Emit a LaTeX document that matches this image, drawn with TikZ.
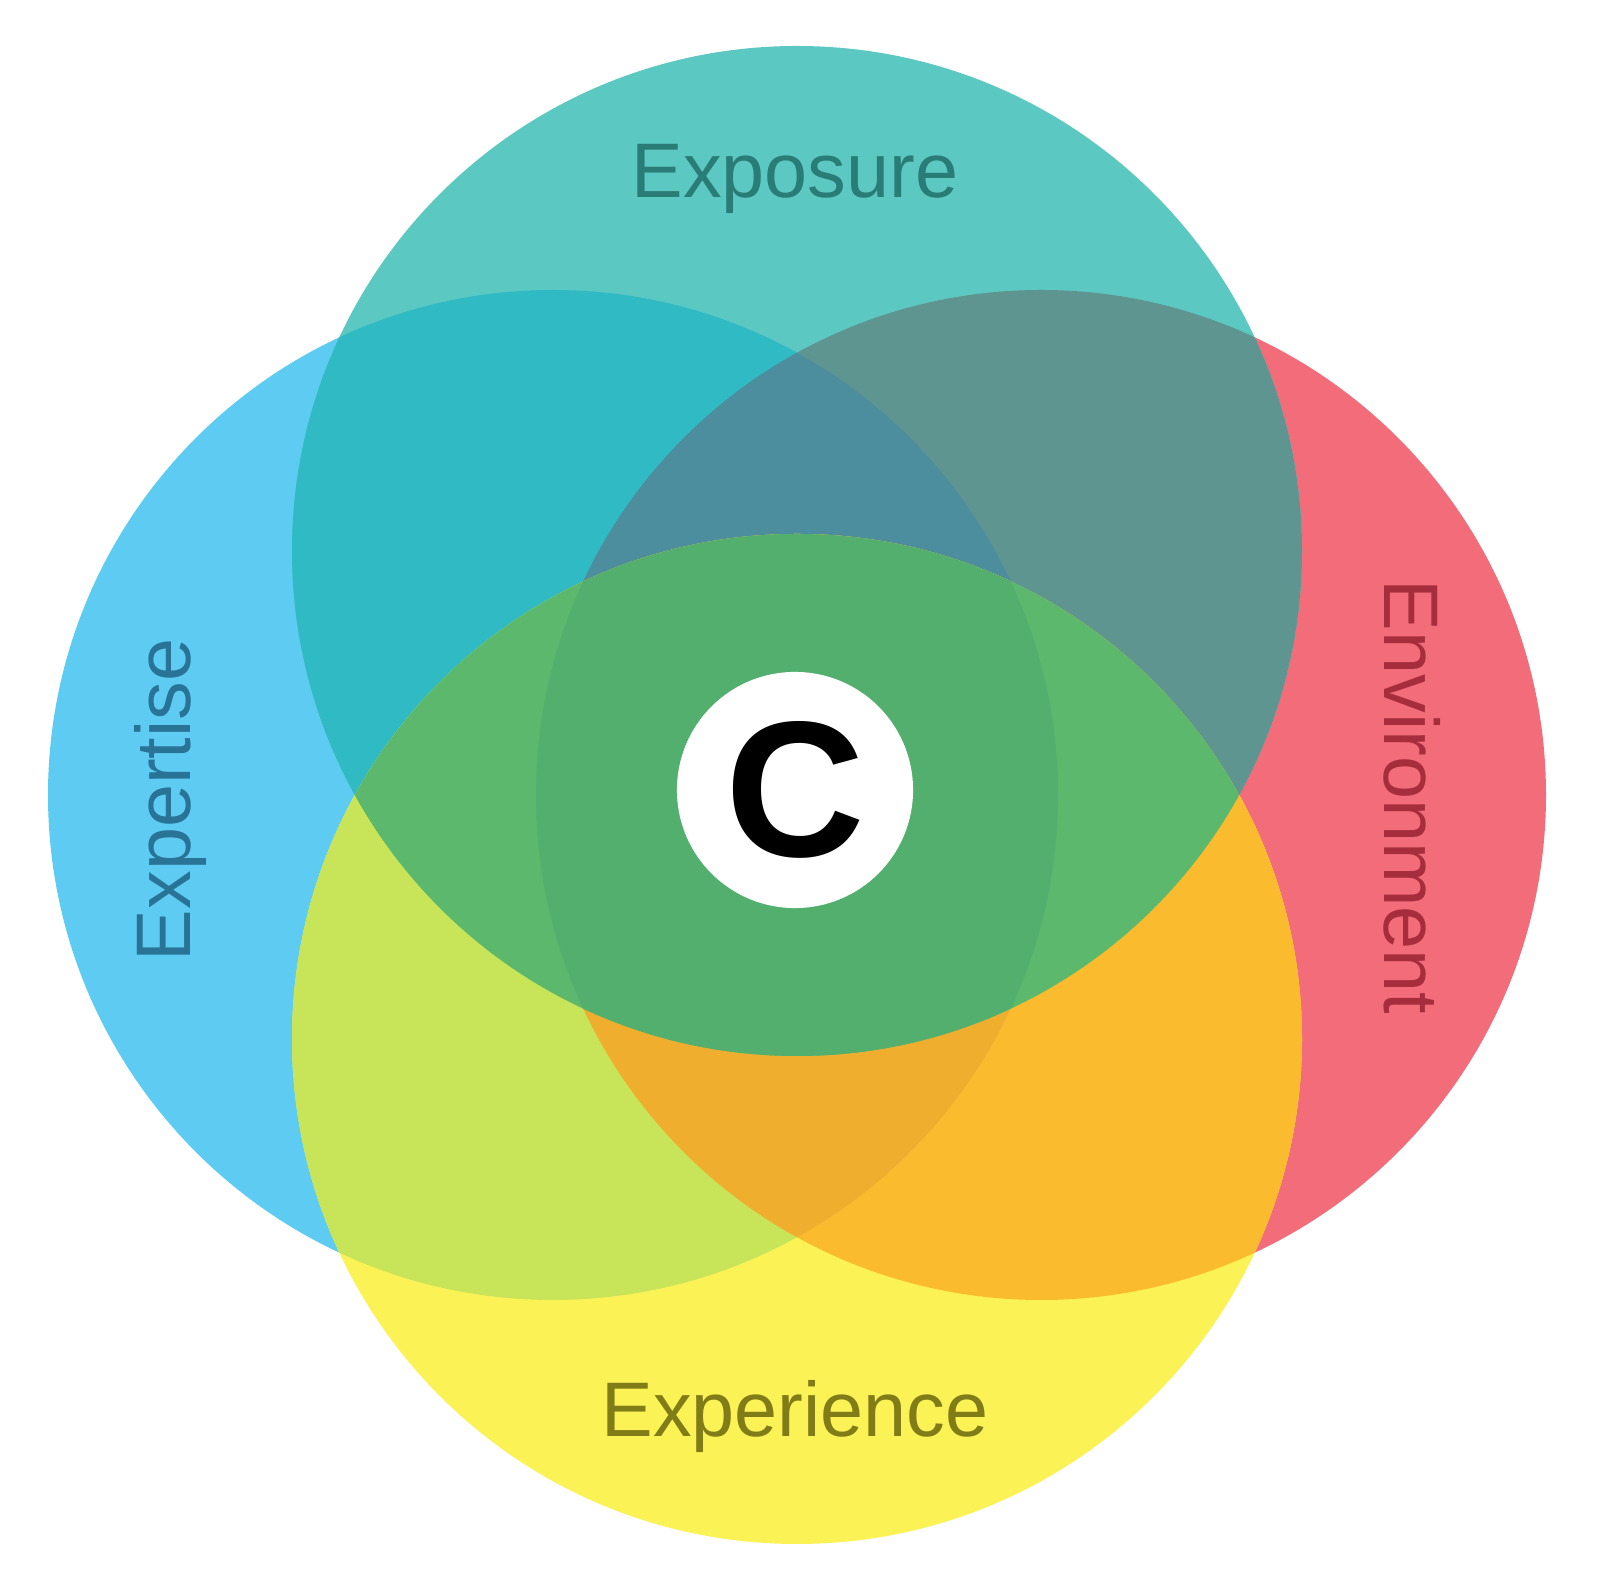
\documentclass[tikz,border=0pt]{standalone}
\usepackage{fontspec}
\setmainfont{Liberation Sans}
\usepackage{tikz}
\usetikzlibrary{positioning}
\definecolor{exposurecolor}{RGB}{92,200,194}
\definecolor{expertisecolor}{RGB}{94,204,242}
\definecolor{environmentcolor}{RGB}{242,108,122}
\definecolor{experiencecolor}{RGB}{251,242,86}
\definecolor{exposureexpertise}{RGB}{47,186,196}
\definecolor{exposureenvironment}{RGB}{94,149,144}
\definecolor{exposurebothsides}{RGB}{76,142,158}
\definecolor{exposureexperience}{RGB}{92,184,108}
\definecolor{allfour}{RGB}{82,175,110}
\definecolor{experienceexpertise}{RGB}{200,228,88}
\definecolor{experienceenvironment}{RGB}{251,187,46}
\definecolor{experiencebothsides}{RGB}{240,174,46}
\definecolor{exposuretext}{RGB}{42,125,118}
\definecolor{expertisetext}{RGB}{40,115,150}
\definecolor{environmenttext}{RGB}{165,45,60}
\definecolor{experiencetext}{RGB}{128,124,24}
\newcommand{\circExposure}{(797,551) circle[radius=505]}
\newcommand{\circExperience}{(797,1039) circle[radius=505]}
\newcommand{\circExpertise}{(553,795) circle[radius=505]}
\newcommand{\circEnvironment}{(1041,795) circle[radius=505]}

\begin{document}
\begin{tikzpicture}[
    x=0.01cm, y=-0.01cm,
    ringlabel/.style={font=\fontsize{22}{26}\selectfont, inner sep=0pt, anchor=base},
    core/.style={circle, fill=white, minimum size=2.36cm, inner sep=0pt, font=\fontsize{55}{60}\selectfont\bfseries}
]
    \useasboundingbox (0,0) rectangle (1608,1589);
    \fill[white] (0,0) rectangle (1608,1589);

    % Single circles
    \fill[expertisecolor] \circExpertise;
    \fill[environmentcolor] \circEnvironment;
    \fill[experiencecolor] \circExperience;
    \fill[exposurecolor] \circExposure;

    % Overlaps with the top circle
    \begin{scope}
        \clip \circExposure;
        \fill[exposureexpertise] \circExpertise;
        \fill[exposureenvironment] \circEnvironment;
        \clip \circExpertise;
        \fill[exposurebothsides] \circEnvironment;
    \end{scope}

    % Overlaps with the bottom circle
    \begin{scope}
        \clip \circExperience;
        \fill[experienceexpertise] \circExpertise;
        \fill[experienceenvironment] \circEnvironment;
        \clip \circExpertise;
        \fill[experiencebothsides] \circEnvironment;
    \end{scope}

    % Top and bottom together
    \begin{scope}
        \clip \circExposure;
        \fill[exposureexperience] \circExperience;
        \clip \circExperience;
        \clip \circExpertise;
        \fill[allfour] \circEnvironment;
    \end{scope}

    % Labels
    \node[ringlabel, text=exposuretext] (exposure) at (795,198) {Exposure};
    \node[ringlabel, text=experiencetext] (experience) at (795,1437) {Experience};
    \node[ringlabel, text=expertisetext, rotate=90] (expertise) at (190,800) {Expertise};
    \node[ringlabel, text=environmenttext, rotate=-90] (environment) at (1384,797) {Environment};

    % Centre
    \node[core] (centre) at (795,790) {C};
\end{tikzpicture}
\end{document}
